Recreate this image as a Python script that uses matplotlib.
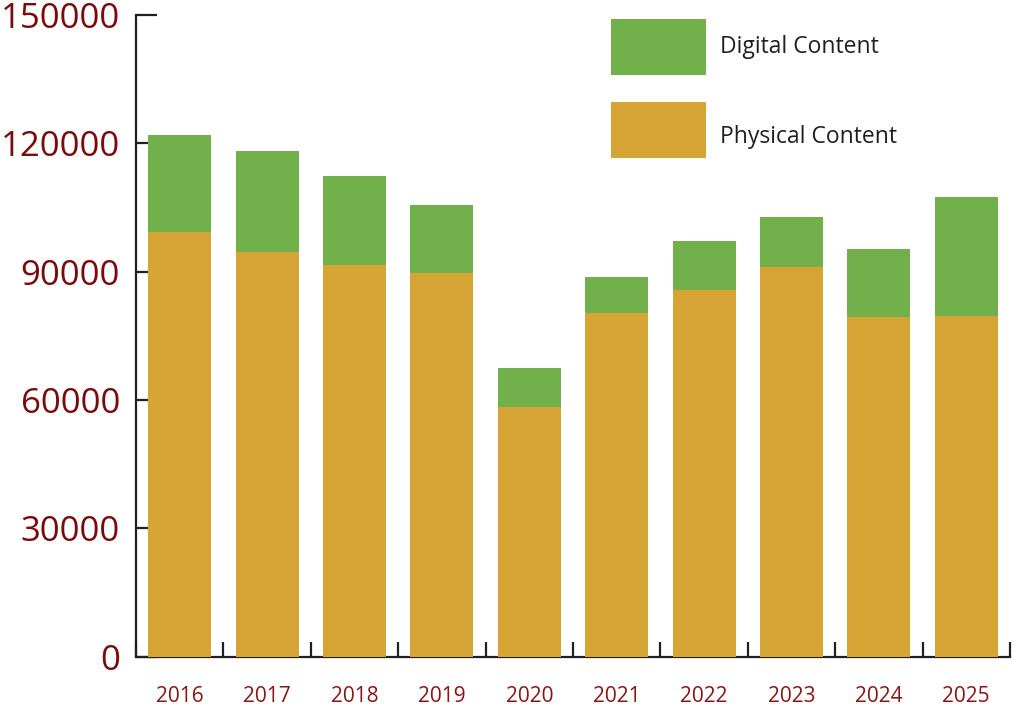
import matplotlib
matplotlib.use("Agg")
import matplotlib.pyplot as plt
from matplotlib.patches import Rectangle
import numpy as np

years = ["2016", "2017", "2018", "2019", "2020", "2021", "2022", "2023", "2024", "2025"]
physical = [99300, 94650, 91550, 89600, 58350, 80300, 85700, 91050, 79450, 79600]
total = [121900, 118200, 112350, 105550, 67450, 88750, 97150, 102750, 95300, 107450]
digital = [t - p for t, p in zip(total, physical)]
yticks = [0, 30000, 60000, 90000, 120000, 150000]
series_names = ["Digital Content", "Physical Content"]

GREEN = "#71B04B"
ORANGE = "#D6A434"
DARK = "#231F20"
RED = "#7C0A0A"
XRED = "#8B1414"

W, H = 1015, 706
fig = plt.figure(figsize=(W / 100, H / 100), dpi=100)
ax = fig.add_axes([136 / W, 1 - 656.5 / H, (1010 - 136) / W, (656.5 - 15) / H])

x = np.arange(len(years))
ax.bar(x, physical, width=0.72, color=ORANGE, zorder=3, linewidth=0)
ax.bar(x, digital, bottom=physical, width=0.72, color=GREEN, zorder=3, linewidth=0)

ax.set_xlim(-0.5, len(years) - 0.5)
ax.set_ylim(0, 150000)

for s in ["top", "right"]:
    ax.spines[s].set_visible(False)
for s in ["left", "bottom"]:
    ax.spines[s].set_color(DARK)
    ax.spines[s].set_linewidth(1.6)

ax.set_yticks(yticks)
ax.set_yticklabels([str(v) for v in yticks], fontsize=25, color=RED, family="Open Sans")
ax.tick_params(axis="y", direction="in", length=15, width=1.6, color=DARK, pad=11.5)

ax.set_xticks(x)
ax.set_xticklabels(years, fontsize=15, color=XRED, family="Open Sans")
ax.tick_params(axis="x", which="major", length=0, pad=21)
ax.set_xticks(np.arange(-0.5, len(years)), minor=True)
ax.tick_params(axis="x", which="minor", direction="in", length=11, width=1.6, color=DARK)

# legend
colors = [GREEN, ORANGE]
tops = [19, 102]
for name, c, t in zip(series_names, colors, tops):
    fig.patches.append(Rectangle((611 / W, 1 - (t + 56) / H), 95 / W, 56 / H,
                                 transform=fig.transFigure, color=c, linewidth=0))
fig.text(720 / W, 1 - 47 / H, series_names[0], fontsize=16.5, color=DARK,
         family="Open Sans", va="center", ha="left")
fig.text(720 / W, 1 - 137 / H, series_names[1], fontsize=16.5, color=DARK,
         family="Open Sans", va="center", ha="left")

fig.savefig("out.png", dpi=100)
